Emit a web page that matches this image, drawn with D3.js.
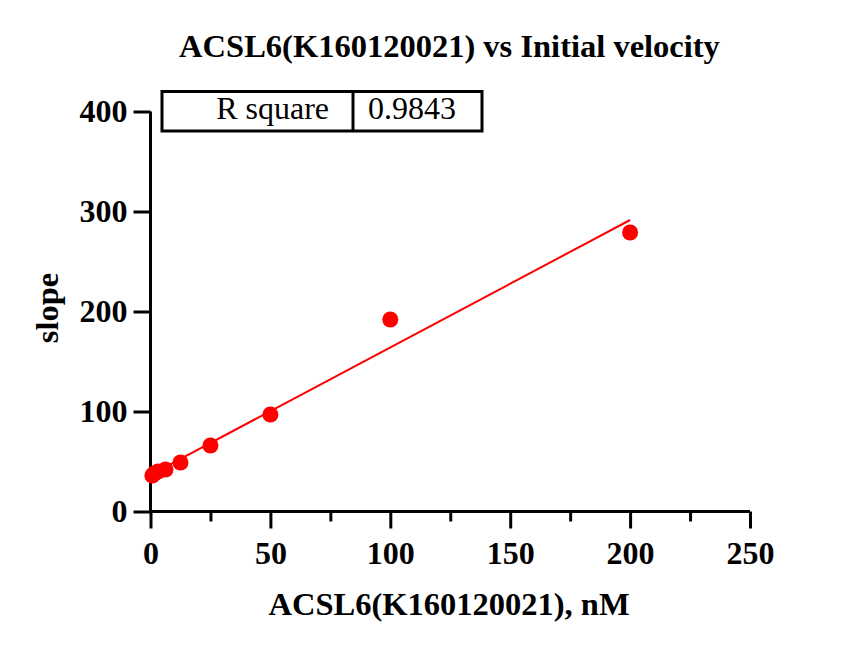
<!DOCTYPE html>
<html lang="en">
<head>
<meta charset="UTF-8">
<title>ACSL6 vs Initial velocity</title>
<script src="https://d3js.org/d3.v7.min.js"></script>
<style>
  body { margin: 0; background: #fff; }
  text { font-family: "Liberation Serif", "Times New Roman", serif; }
</style>
</head>
<body>
<div id="chart"></div>
<script>
// concentrations (nM) and measured slope
var conc = [0.78, 1.56, 3.125, 6.25, 12.5, 25, 50, 100, 200];
var slope = [36, 38, 40, 42, 49, 66, 97, 192, 279];

// linear fit
var fitSlope = 1.274;
var fitIntercept = 36.7;
var fitRange = [0.78, 200];

var xTicks = [0, 50, 100, 150, 200, 250];
var xMinor = [25, 75, 125, 175, 225];
var yTicks = [0, 100, 200, 300, 400];
var rSquare = "0.9843";

var W = 845, H = 653;

var svg = d3.select("#chart").append("svg")
  .attr("width", W)
  .attr("height", H);

var x = d3.scaleLinear().domain([0, 250]).range([150.5, 750]);
var y = d3.scaleLinear().domain([0, 400]).range([511.5, 111.5]);

// title
svg.append("text")
  .attr("x", 449.5)
  .attr("y", 57)
  .attr("text-anchor", "middle")
  .style("font-size", "32.5px")
  .style("font-weight", "bold")
  .text("ACSL6(K160120021) vs Initial velocity");

// x axis
var xAxis = svg.append("g")
  .attr("transform", "translate(0," + y(0) + ")")
  .call(d3.axisBottom(x).tickValues(xTicks).tickSize(17).tickPadding(13).tickFormat(d3.format("d")));
xAxis.select(".domain").attr("stroke-width", 3).attr("d", "M" + x(0) + ",0H" + x(250));
xAxis.selectAll(".tick line").attr("stroke-width", 3);
xAxis.selectAll(".tick text")
  .style("font-size", "32px").style("font-weight", "bold").attr("fill", "#000");

svg.append("g")
  .attr("transform", "translate(0," + y(0) + ")")
  .call(d3.axisBottom(x).tickValues(xMinor).tickSize(10).tickFormat(""))
  .call(g => g.select(".domain").remove())
  .selectAll(".tick line").attr("stroke-width", 3);

// y axis
var yAxis = svg.append("g")
  .attr("transform", "translate(" + x(0) + ",0)")
  .call(d3.axisLeft(y).tickValues(yTicks).tickSize(17).tickPadding(6).tickFormat(d3.format("d")));
yAxis.select(".domain").attr("stroke-width", 3).attr("d", "M0," + y(0) + "V" + y(400));
yAxis.selectAll(".tick line").attr("stroke-width", 3);
yAxis.selectAll(".tick text")
  .style("font-size", "32px").style("font-weight", "bold").attr("fill", "#000");

// axis titles
svg.append("text")
  .attr("x", 449)
  .attr("y", 615)
  .attr("text-anchor", "middle")
  .style("font-size", "32.5px")
  .style("font-weight", "bold")
  .text("ACSL6(K160120021), nM");

svg.append("text")
  .attr("transform", "translate(58,308) rotate(-90)")
  .attr("text-anchor", "middle")
  .style("font-size", "32.5px")
  .style("font-weight", "bold")
  .text("slope");

// fit line
svg.append("path")
  .datum(fitRange)
  .attr("fill", "none")
  .attr("stroke", "#ff0000")
  .attr("stroke-width", 2)
  .attr("d", d3.line().x(d => x(d)).y(d => y(fitIntercept + fitSlope * d)));

// points
svg.append("g").selectAll("circle")
  .data(conc)
  .join("circle")
  .attr("cx", d => x(d))
  .attr("cy", (d, i) => y(slope[i]))
  .attr("r", 8)
  .attr("fill", "#ff0000");

// R square table
var tbl = svg.append("g");
tbl.append("rect")
  .attr("x", 162).attr("y", 91.5)
  .attr("width", 320).attr("height", 39.5)
  .attr("fill", "#fff").attr("stroke", "#000").attr("stroke-width", 3);
tbl.append("line")
  .attr("x1", 353).attr("x2", 353).attr("y1", 91.5).attr("y2", 131)
  .attr("stroke", "#000").attr("stroke-width", 3);
tbl.append("text")
  .attr("x", 329).attr("y", 119)
  .attr("text-anchor", "end")
  .style("font-size", "32px")
  .text("R square");
tbl.append("text")
  .attr("x", 412).attr("y", 119)
  .attr("text-anchor", "middle")
  .style("font-size", "32px")
  .text(rSquare);
</script>
</body>
</html>
